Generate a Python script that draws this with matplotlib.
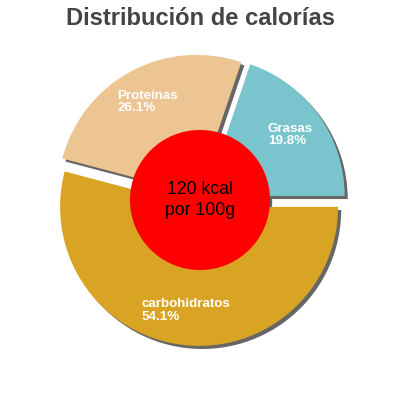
import matplotlib
matplotlib.use("Agg")
import matplotlib.pyplot as plt
import numpy as np

categories = ["Grasas", "Proteínas", "carbohidratos"]
percentages = [19.8, 26.1, 54.1]
colors = ["#79c4cd", "#edc593", "#d9a423"]
title = "Distribución de calorías"
center_label = "120 kcal\npor 100g"

plt.rcParams['font.family'] = ['Liberation Sans', 'DejaVu Sans']

fig = plt.figure(figsize=(4, 4), dpi=100)
ax = fig.add_axes([0, 0, 1, 1])
lim = 200 / 139
ax.set_xlim(-lim, lim)
ax.set_ylim(-lim, lim)
ax.set_aspect('equal')
ax.axis('off')

shadow = {'ox': 0.016, 'oy': -0.016, 'facecolor': '#666666', 'edgecolor': 'none', 'alpha': 1}
wedges, texts = ax.pie(
    percentages, colors=colors, startangle=0, counterclock=True,
    explode=[0.05] * len(percentages), radius=1,
    labels=[f"{c}\n{p:.1f}%" for c, p in zip(categories, percentages)],
    labeldistance=0.75, shadow=shadow,
    wedgeprops={'linewidth': 0},
    textprops={'color': 'white', 'fontsize': 9.6, 'fontweight': 'bold'},
)
for t in texts:
    t.set_ha('center')
    t.set_va('center')
    t.set_multialignment('left')
    t.set_linespacing(1.05)

ax.pie([1], colors=['#ff0000'], radius=0.504, startangle=0,
       shadow={'ox': 0.011, 'oy': -0.011, 'facecolor': '#666666', 'edgecolor': 'none', 'alpha': 1},
       wedgeprops={'linewidth': 0})
ax.set_xlim(-lim, lim)
ax.set_ylim(-lim, lim)

ax.text(0, 0, center_label, ha='center', va='center', fontsize=12.7,
        color='black', linespacing=1.3)

fig.text(0.5, 1 - 25 / 400, title, ha='center', va='baseline',
         fontsize=17.1, fontweight='bold', color='#444444')

fig.savefig("out.png", dpi=100)
